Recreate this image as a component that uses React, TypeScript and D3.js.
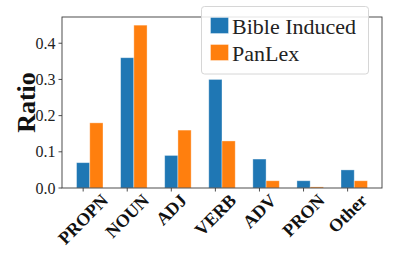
import React, { useEffect, useRef } from 'react';
import * as d3 from 'd3';

const categories = ['PROPN', 'NOUN', 'ADJ', 'VERB', 'ADV', 'PRON', 'Other'];
const bibleInduced = [0.07, 0.36, 0.09, 0.3, 0.08, 0.02, 0.05];
const panLex = [0.18, 0.45, 0.16, 0.13, 0.02, 0.003, 0.02];
const yTicks = [0.0, 0.1, 0.2, 0.3, 0.4];
const seriesNames = ['Bible Induced', 'PanLex'];

const W = 399;
const H = 266;
const margin = { left: 62, right: 17, top: 17, bottom: 78 };
const serif = '"Liberation Serif", "DejaVu Serif", serif';
const colors = ['#1f77b4', '#ff7f0e'];

const App: React.FC = () => {
  const svgRef = useRef<SVGSVGElement | null>(null);

  useEffect(() => {
    if (!svgRef.current) return;
    const svg = d3.select(svgRef.current);
    svg.selectAll('*').remove();

    const x0 = margin.left;
    const x1 = W - margin.right;
    const yTop = margin.top;
    const yBot = H - margin.bottom;

    const bw = 0.3;
    const x = d3.scaleLinear().domain([-0.48, 6.78]).range([x0, x1]);
    const y = d3.scaleLinear().domain([0, 0.4725]).range([yBot, yTop]);

    const g = svg.append('g');

    // bars
    [bibleInduced, panLex].forEach((vals, s) => {
      g.selectAll(null)
        .data(vals)
        .enter()
        .append('rect')
        .attr('x', (_, i) => x(i + s * bw - bw / 2))
        .attr('width', x(bw) - x(0))
        .attr('y', (d) => y(d))
        .attr('height', (d) => y(0) - y(d))
        .attr('fill', colors[s])
        .attr('stroke', 'white')
        .attr('stroke-opacity', 0.45)
        .attr('stroke-width', 0.8);
    });

    // spines
    g.append('rect')
      .attr('x', x0)
      .attr('y', yTop)
      .attr('width', x1 - x0)
      .attr('height', yBot - yTop)
      .attr('fill', 'none')
      .attr('stroke', '#3a3a3a')
      .attr('stroke-width', 0.9);

    // y ticks
    yTicks.forEach((t) => {
      g.append('line')
        .attr('x1', x0 - 3.5)
        .attr('x2', x0)
        .attr('y1', y(t))
        .attr('y2', y(t))
        .attr('stroke', '#3a3a3a')
        .attr('stroke-width', 0.9);
      g.append('text')
        .attr('x', x0 - 6.5)
        .attr('y', y(t))
        .attr('dy', '0.35em')
        .attr('text-anchor', 'end')
        .attr('font-family', serif)
        .attr('font-size', 16)
        .attr('fill', '#222')
        .text(t.toFixed(1));
    });

    // x ticks + rotated labels
    categories.forEach((c, i) => {
      const tx = x(i);
      g.append('line')
        .attr('x1', tx)
        .attr('x2', tx)
        .attr('y1', yBot)
        .attr('y2', yBot + 3.5)
        .attr('stroke', '#3a3a3a')
        .attr('stroke-width', 0.9);
      const fs = 18;
      const label = g
        .append('text')
        .attr('text-anchor', 'middle')
        .attr('dominant-baseline', 'central')
        .attr('font-family', serif)
        .attr('font-weight', 'bold')
        .attr('font-size', fs)
        .attr('fill', '#111')
        .text(c);
      const L = (label.node() as SVGTextElement).getComputedTextLength();
      const h = fs * 0.68;
      const half = ((L + h) * Math.SQRT1_2) / 2;
      const cy = yBot + 5 + half;
      label.attr('transform', `translate(${tx},${cy}) rotate(-45)`);
    });

    // y label
    g.append('text')
      .attr('transform', `translate(35,${(yTop + yBot) / 2}) rotate(-90)`)
      .attr('text-anchor', 'middle')
      .attr('font-family', serif)
      .attr('font-weight', 'bold')
      .attr('font-size', 26)
      .attr('fill', '#111')
      .text('Ratio');

    // legend
    const lg = g.append('g');
    lg.append('rect')
      .attr('x', 201.5)
      .attr('y', 6.5)
      .attr('width', 167)
      .attr('height', 67.5)
      .attr('rx', 3)
      .attr('fill', 'white')
      .attr('fill-opacity', 0.85)
      .attr('stroke', '#d6d6d6')
      .attr('stroke-width', 1);
    seriesNames.forEach((n, s) => {
      const ry = 17.5 + s * 27;
      lg.append('rect')
        .attr('x', 210.5)
        .attr('y', ry)
        .attr('width', 18)
        .attr('height', 16)
        .attr('fill', colors[s])
        .attr('stroke', 'white')
        .attr('stroke-opacity', 0.45)
        .attr('stroke-width', 0.8);
      lg.append('text')
        .attr('x', 232)
        .attr('y', ry + 16)
        .attr('font-family', serif)
        .attr('font-size', 22)
        .attr('fill', '#222')
        .text(n);
    });
  }, []);

  return (
    <svg
      ref={svgRef}
      width={W}
      height={H}
      viewBox={`0 0 ${W} ${H}`}
      style={{ position: 'absolute', left: 0, top: 0, background: 'white' }}
    />
  );
};

export default App;
